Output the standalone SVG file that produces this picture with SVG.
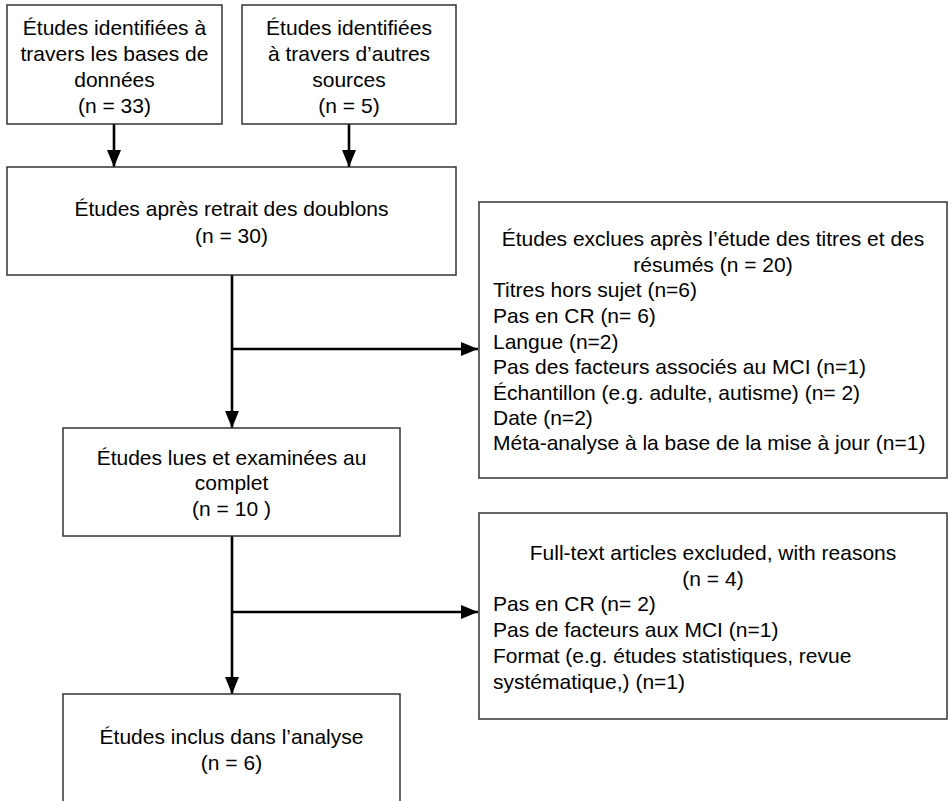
<svg xmlns="http://www.w3.org/2000/svg" width="950" height="801" viewBox="0 0 950 801">
<defs>
<marker id="arr" markerUnits="userSpaceOnUse" markerWidth="17" markerHeight="14" refX="17" refY="7" orient="auto">
<path d="M0,0 L17,7 L0,14 z" fill="#000"/>
</marker>
<style>
.box{fill:#fff;stroke:#333;stroke-width:1.5}
.t{font-family:"Liberation Sans",Arial,sans-serif;font-size:21px;fill:#000}
.c{text-anchor:middle}
.con{stroke:#000;stroke-width:2.6;fill:none}
</style>
</defs>
<rect width="950" height="801" fill="#fff"/>
<g id="connectors">
<line class="con" x1="114" y1="124" x2="114" y2="167" marker-end="url(#arr)"/>
<line class="con" x1="349" y1="124" x2="349" y2="167" marker-end="url(#arr)"/>
<line class="con" x1="232" y1="275" x2="232" y2="428" marker-end="url(#arr)"/>
<line class="con" x1="232" y1="349" x2="478" y2="349" marker-end="url(#arr)"/>
<line class="con" x1="232" y1="536" x2="232" y2="694" marker-end="url(#arr)"/>
<line class="con" x1="232" y1="612" x2="478" y2="612" marker-end="url(#arr)"/>
</g>
<g id="n1">
<rect class="box" x="7" y="5" width="215" height="119"/>
<text class="t c" x="114.5" y="35">Études identifiées à</text>
<text class="t c" x="114.5" y="61">travers les bases de</text>
<text class="t c" x="114.5" y="87">données</text>
<text class="t c" x="114.5" y="113">(n = 33)</text>
</g>
<g id="n2">
<rect class="box" x="242" y="5" width="214" height="119"/>
<text class="t c" x="349" y="35">Études identifiées</text>
<text class="t c" x="349" y="61">à travers d’autres</text>
<text class="t c" x="349" y="87">sources</text>
<text class="t c" x="349" y="113">(n = 5)</text>
</g>
<g id="n3">
<rect class="box" x="7" y="167" width="449" height="108"/>
<text class="t c" x="231.5" y="216">Études après retrait des doublons</text>
<text class="t c" x="231.5" y="243">(n = 30)</text>
</g>
<g id="n4">
<rect class="box" x="479" y="202" width="468" height="276"/>
<text class="t c" x="713" y="246">Études exclues après l’étude des titres et des</text>
<text class="t c" x="713" y="272">résumés (n = 20)</text>
<text class="t" x="493" y="297">Titres hors sujet (n=6)</text>
<text class="t" x="493" y="323">Pas en CR (n= 6)</text>
<text class="t" x="493" y="349">Langue (n=2)</text>
<text class="t" x="493" y="374">Pas des facteurs associés au MCI (n=1)</text>
<text class="t" x="493" y="400">Échantillon (e.g. adulte, autisme) (n= 2)</text>
<text class="t" x="493" y="425">Date (n=2)</text>
<text class="t" x="493" y="450">Méta-analyse à la base de la mise à jour (n=1)</text>
</g>
<g id="n5">
<rect class="box" x="63" y="428" width="337" height="108"/>
<text class="t c" x="231.5" y="465">Études lues et examinées au</text>
<text class="t c" x="231.5" y="490">complet</text>
<text class="t c" x="231.5" y="516">(n = 10 )</text>
</g>
<g id="n6">
<rect class="box" x="479" y="513" width="468" height="206"/>
<text class="t c" x="713" y="560">Full-text articles excluded, with reasons</text>
<text class="t c" x="713" y="586">(n = 4)</text>
<text class="t" x="493" y="611">Pas en CR (n= 2)</text>
<text class="t" x="493" y="637">Pas de facteurs aux MCI (n=1)</text>
<text class="t" x="493" y="663">Format (e.g. études statistiques, revue</text>
<text class="t" x="493" y="689">systématique,) (n=1)</text>
</g>
<g id="n7">
<rect class="box" x="63" y="694" width="337" height="120"/>
<text class="t c" x="231.5" y="744">Études inclus dans l’analyse</text>
<text class="t c" x="231.5" y="770">(n = 6)</text>
</g>
</svg>
